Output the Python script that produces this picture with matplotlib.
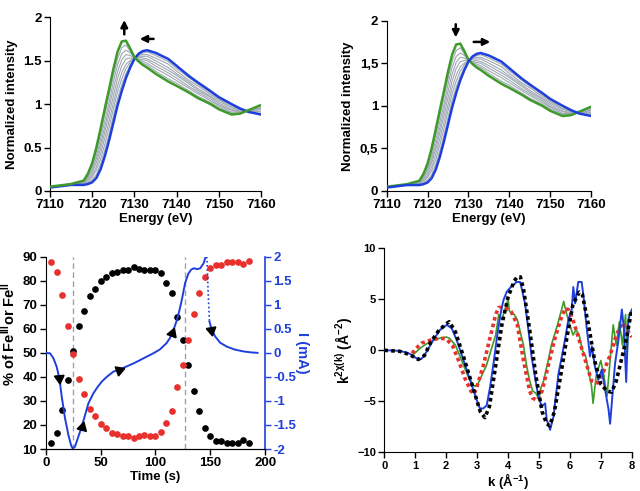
import numpy as np
import matplotlib
matplotlib.use("Agg")
import matplotlib.pyplot as plt
from matplotlib.ticker import FuncFormatter

plt.rcParams['font.family'] = ['Liberation Sans', 'DejaVu Sans']
plt.rcParams['font.weight'] = 'bold'
plt.rcParams['font.size'] = 9
plt.rcParams['axes.labelweight'] = 'bold'
plt.rcParams['mathtext.fontset'] = 'custom'
plt.rcParams['mathtext.rm'] = 'Liberation Sans:bold'
plt.rcParams['mathtext.it'] = 'Liberation Sans:bold'
plt.rcParams['mathtext.bf'] = 'Liberation Sans:bold'
plt.rcParams['mathtext.default'] = 'bf'

GREEN = '#3f9a2c'
BLUE = '#1f3fdc'
RED = '#e8302c'
GRAY = '#9ea8b2'

# ---- XANES spectra (top panels) ----
energy = [7110, 7115, 7118, 7119, 7120, 7121, 7122, 7123, 7124, 7125, 7126, 7127,
          7128, 7129, 7130, 7131, 7132, 7133, 7135, 7138, 7140, 7143, 7145, 7148,
          7150, 7153, 7155, 7157, 7160]
xanes_green = [0.05, 0.08, 0.12, 0.20, 0.32, 0.50, 0.72, 0.95, 1.17, 1.40, 1.60, 1.72,
               1.73, 1.64, 1.54, 1.49, 1.45, 1.42, 1.35, 1.26, 1.21, 1.13, 1.07, 1.00,
               0.94, 0.88, 0.89, 0.93, 0.99]
xanes_blue = [0.04, 0.07, 0.07, 0.08, 0.10, 0.15, 0.25, 0.40, 0.58, 0.78, 0.98, 1.15,
              1.30, 1.42, 1.52, 1.58, 1.61, 1.62, 1.59, 1.52, 1.44, 1.32, 1.25, 1.15,
              1.08, 1.00, 0.95, 0.91, 0.88]
xanes_gray = [
    [0.05, 0.08, 0.11, 0.19, 0.29, 0.46, 0.66, 0.88, 1.10, 1.32, 1.52, 1.65, 1.68, 1.61, 1.54,
     1.50, 1.47, 1.45, 1.38, 1.29, 1.24, 1.15, 1.09, 1.02, 0.96, 0.90, 0.90, 0.93, 0.98],
    [0.05, 0.08, 0.11, 0.17, 0.27, 0.41, 0.60, 0.81, 1.02, 1.25, 1.45, 1.58, 1.62, 1.59, 1.54,
     1.51, 1.49, 1.47, 1.41, 1.33, 1.27, 1.18, 1.12, 1.04, 0.98, 0.91, 0.91, 0.93, 0.96],
    [0.05, 0.08, 0.10, 0.16, 0.24, 0.37, 0.54, 0.74, 0.95, 1.17, 1.37, 1.51, 1.57, 1.56, 1.53,
     1.52, 1.51, 1.50, 1.44, 1.36, 1.30, 1.20, 1.14, 1.06, 0.99, 0.93, 0.91, 0.92, 0.95],
    [0.045, 0.075, 0.095, 0.14, 0.21, 0.33, 0.49, 0.68, 0.88, 1.09, 1.29, 1.44, 1.52, 1.53, 1.53,
     1.54, 1.53, 1.52, 1.47, 1.39, 1.33, 1.23, 1.16, 1.08, 1.01, 0.94, 0.92, 0.92, 0.94],
    [0.044, 0.074, 0.089, 0.13, 0.18, 0.28, 0.43, 0.61, 0.80, 1.01, 1.21, 1.36, 1.46, 1.50, 1.53,
     1.55, 1.55, 1.55, 1.50, 1.42, 1.35, 1.25, 1.18, 1.09, 1.03, 0.96, 0.93, 0.92, 0.92],
    [0.043, 0.073, 0.083, 0.11, 0.16, 0.24, 0.37, 0.54, 0.73, 0.94, 1.14, 1.29, 1.41, 1.48, 1.53,
     1.56, 1.57, 1.57, 1.53, 1.46, 1.38, 1.27, 1.21, 1.11, 1.05, 0.97, 0.94, 0.92, 0.91],
    [0.041, 0.071, 0.076, 0.095, 0.13, 0.19, 0.31, 0.47, 0.65, 0.86, 1.06, 1.22, 1.35, 1.45, 1.52,
     1.57, 1.59, 1.60, 1.56, 1.49, 1.41, 1.30, 1.23, 1.13, 1.06, 0.99, 0.94, 0.91, 0.89],
]

# ---- time course (bottom left) ----
time_s = [5, 10, 15, 20, 25, 30, 35, 40, 45, 50, 55, 60, 65, 70, 75, 80, 85, 90, 95,
          100, 105, 110, 115, 120, 125, 130, 135, 140, 145, 150, 155, 160, 165, 170,
          175, 180, 185]
fe_black = [12.5, 16.5, 26.2, 38.7, 50.9, 61.2, 67.5, 73.8, 76.5, 79.9, 81.7, 83.2, 83.5,
            84.6, 84.6, 85.7, 85.0, 84.6, 84.6, 84.6, 83.1, 79.2, 74.9, 64.8, 55.3, 45.1,
            34.0, 25.7, 18.6, 15.5, 13.5, 13.5, 12.4, 12.6, 12.4, 13.6, 12.4]
fe_red = [87.9, 83.6, 74.1, 61.3, 49.4, 39.0, 32.7, 26.5, 23.7, 20.4, 18.6, 16.8, 16.2,
          15.5, 15.5, 14.6, 15.3, 15.7, 15.5, 15.5, 17.2, 21.0, 25.7, 35.6, 45.1, 55.2,
          66.3, 74.7, 81.4, 85.1, 86.7, 86.7, 87.8, 87.8, 87.8, 87.1, 88.1]
cur_t1 = [0, 4, 7, 10, 12.5, 14.6, 17.6, 20.7, 23.1, 24.6, 26.7, 29.8, 32.8, 35.9, 38.9,
          43.5, 47, 51, 55.6, 61.7, 67.8, 74, 80, 86, 92, 98, 104, 110, 113, 116, 119.5,
          122, 124, 127, 130, 132.5, 135, 138, 140.8, 143.8, 146.5]
cur_i1 = [0, -0.01, -0.11, -0.29, -0.53, -0.91, -1.36, -1.71, -1.92, -1.99, -1.95, -1.74,
          -1.54, -1.29, -1.05, -0.84, -0.72, -0.6, -0.5, -0.39, -0.34, -0.28, -0.22, -0.15,
          -0.08, -0.01, 0.07, 0.2, 0.3, 0.45, 0.68, 0.9, 1.1, 1.45, 1.65, 1.73, 1.76, 1.74,
          1.76, 1.86, 2.05]
cur_t_dot = [146.8, 147.3, 147.8, 148.3, 148.8, 149.2]
cur_i_dot = [2.0, 1.7, 1.4, 1.1, 0.85, 0.65]
cur_t2 = [149.2, 151.4, 154.4, 159, 165, 172, 180, 187, 193]
cur_i2 = [0.65, 0.47, 0.34, 0.21, 0.13, 0.07, 0.03, 0.01, 0.0]
switch_times = [25, 127]
arrow_t = [12.5, 33, 67, 115, 151]
arrow_i = [-0.53, -1.55, -0.35, 0.41, 0.47]
arrow_rot = [185, 345, 290, 340, 190]

# ---- EXAFS (bottom right) ----
blue_k = [0, 0.3, 0.5, 0.7, 0.83, 0.95, 1.05, 1.2, 1.37, 1.58, 1.8, 2.02, 2.18, 2.34, 2.56,
          2.77, 2.99, 3.09, 3.2, 3.31, 3.42, 3.53, 3.63, 3.74, 3.85, 3.96, 4.06, 4.17, 4.28,
          4.39, 4.44, 4.55, 4.66, 4.76, 4.87, 4.98, 5.09, 5.2, 5.25, 5.36, 5.47, 5.52, 5.63,
          5.74, 5.84, 5.95, 6.06, 6.11, 6.17, 6.27, 6.38, 6.44, 6.54, 6.65, 6.71, 6.81, 6.92,
          7.03, 7.14, 7.25, 7.3, 7.39, 7.46, 7.57, 7.68, 7.75, 7.82, 7.89, 8.0]
blue_chi = [0, -0.02, -0.07, -0.2, -0.36, -0.6, -0.8, -0.85, -0.13, 1.0, 2.0, 2.5, 2.15, 1.0,
            -0.95, -2.9, -4.9, -5.7, -5.7, -5.4, -3.6, -1.3, 1.0, 3.3, 4.9, 5.75, 6.1, 6.4,
            6.7, 6.7, 6.1, 4.6, 2.0, -0.6, -2.6, -4.5, -5.5, -5.2, -6.8, -7.8, -6.5, -5.2,
            -2.3, -0.6, 1.0, 3.0, 4.0, 6.2, 4.6, 6.7, 6.7, 5.3, 2.3, -0.6, 0.4, -1.6, -2.9,
            -1.9, -3.9, -5.8, -7.2, -3.9, -1.3, 1.0, 4.0, 2.0, -3.1, 3.0, 4.0]
black_k = [0, 0.5, 0.8, 1.1, 1.3, 1.5, 1.75, 2.0, 2.1, 2.3, 2.6, 2.9, 3.1, 3.25, 3.4, 3.6,
           3.8, 4.0, 4.2, 4.3, 4.4, 4.5, 4.7, 4.9, 5.1, 5.25, 5.35, 5.5, 5.7, 5.9, 6.1, 6.3,
           6.4, 6.6, 6.8, 7.0, 7.2, 7.35, 7.5, 7.7, 7.85, 8.0]
black_chi = [0, -0.1, -0.4, -0.9, -0.5, 0.8, 1.9, 2.6, 2.8, 1.8, -1.0, -4.0, -6.0, -6.6,
             -5.5, -1.5, 2.5, 5.2, 6.8, 7.2, 7.2, 6.0, 2.0, -2.5, -6.0, -7.2, -7.4, -6.0,
             -2.5, 1.2, 4.5, 5.7, 5.5, 2.5, -1.0, -3.3, -4.0, -4.1, -3.0, -0.5, 1.5, 4.0]
red_k = [0.9, 1.0, 1.2, 1.5, 1.8, 2.0, 2.2, 2.4, 2.6, 2.8, 2.9, 3.0, 3.2, 3.4, 3.6, 3.7, 3.9,
         4.1, 4.3, 4.5, 4.7, 4.8, 4.95, 5.1, 5.3, 5.5, 5.7, 5.85, 5.95, 6.1, 6.3, 6.5, 6.7,
         6.9, 7.1, 7.3, 7.5, 7.7, 7.9, 8.0]
red_chi = [-0.3, 0.1, 0.7, 1.0, 1.2, 1.1, 0.5, -1.0, -2.7, -4.0, -4.3, -3.5, -1.5, 1.0, 3.5,
           4.2, 4.2, 3.8, 2.5, -1.0, -4.0, -4.7, -4.9, -4.0, -1.5, 1.0, 3.0, 4.1, 4.0, 3.0,
           1.0, -1.0, -3.0, -3.2, -2.0, -0.5, 1.5, 2.7, 1.8, 1.3]
green_k = [0.9, 1.2, 1.5, 1.8, 2.0, 2.1, 2.3, 2.5, 2.7, 2.9, 3.0, 3.1, 3.3, 3.5, 3.6, 3.7,
           3.8, 3.9, 4.0, 4.05, 4.2, 4.3, 4.5, 4.6, 4.7, 4.8, 4.9, 5.0, 5.05, 5.15, 5.3, 5.4,
           5.5, 5.6, 5.75, 5.8, 5.9, 6.0, 6.1, 6.2, 6.3, 6.4, 6.5, 6.6, 6.7, 6.75, 6.85, 7.0,
           7.1, 7.2, 7.3, 7.4, 7.5, 7.6, 7.7, 7.8, 7.85, 7.9]
green_chi = [-0.5, 0.3, 0.9, 1.2, 1.3, 1.2, 0.5, -1.0, -2.5, -3.5, -3.5, -2.8, -1.5, 0.5,
             1.5, 3.5, 3.0, 4.0, 5.0, 3.8, 3.5, 3.0, 0.5, -1.5, -3.0, -4.0, -4.2, -4.8, -3.8,
             -3.0, -1.0, 0.5, 1.5, 2.5, 4.2, 4.8, 3.5, 2.5, 1.5, 2.0, 1.5, 0.0, -0.5, -2.0,
             -3.5, -5.2, -2.5, -1.0, -2.5, -4.5, -1.0, 2.5, 0.5, 2.8, 0.5, 3.5, -0.5, 3.5]


def style_axes(ax, size=9.5):
    for s in ['top', 'right']:
        ax.spines[s].set_visible(False)
    ax.tick_params(direction='out', length=4, width=1, labelsize=size, pad=2)
    for lab in ax.get_xticklabels() + ax.get_yticklabels():
        lab.set_fontweight('bold')


def xanes_panel(ax, blue_on_top, comma):
    for g in xanes_gray:
        ax.plot(energy, g, color=GRAY, lw=0.8, zorder=2)
    zb, zg = (4, 3) if blue_on_top else (3, 4)
    ax.plot(energy, xanes_blue, color=BLUE, lw=1.8, zorder=zb)
    ax.plot(energy, xanes_green, color=GREEN, lw=1.8, zorder=zg)
    ax.set_xlim(7110, 7160)
    ax.set_ylim(0, 2)
    ax.set_xticks([7110, 7120, 7130, 7140, 7150, 7160])
    ax.set_yticks([0, 0.5, 1, 1.5, 2])
    if comma:
        ax.yaxis.set_major_formatter(FuncFormatter(lambda v, p: ('%g' % v).replace('.', ',')))
    else:
        ax.yaxis.set_major_formatter(FuncFormatter(lambda v, p: '%g' % v))
    ax.set_xlabel('Energy (eV)', fontsize=9.5, labelpad=1)
    ax.set_ylabel('Normalized intensity', fontsize=9.5, labelpad=4)
    style_axes(ax)


fig = plt.figure(figsize=(6.4, 4.91), dpi=100)

# top left
ax1 = fig.add_axes([0.078, 0.611, 0.330, 0.354])
xanes_panel(ax1, blue_on_top=False, comma=False)
arr = dict(arrowstyle='-|>', lw=1.8, color='black', mutation_scale=10)
ax1.annotate('', xy=(7127.6, 2.0), xytext=(7127.6, 1.77), arrowprops=arr)
ax1.annotate('', xy=(7130.6, 1.75), xytext=(7135.2, 1.75), arrowprops=arr)

# top right
ax2 = fig.add_axes([0.604, 0.611, 0.320, 0.347])
xanes_panel(ax2, blue_on_top=True, comma=True)
ax2.annotate('', xy=(7126.9, 1.77), xytext=(7126.9, 1.99), arrowprops=arr)
ax2.annotate('', xy=(7136.0, 1.75), xytext=(7130.6, 1.75), arrowprops=arr)

# bottom left
ax3 = fig.add_axes([0.0714, 0.0855, 0.343, 0.3917])
for t in switch_times:
    ax3.axvline(t, color='#9aa4ac', lw=1, ls=(0, (4, 2.5)), zorder=1)
ax3.plot(time_s, fe_black, 'o', color='black', ms=3.8, zorder=3)
ax3.plot(time_s, fe_red, 'o', color=RED, ms=3.8, zorder=3)
ax3.set_xlim(0, 200)
ax3.set_ylim(10, 90)
ax3.set_xticks([0, 50, 100, 150, 200])
ax3.set_yticks(np.arange(10, 91, 10))
ax3.set_xlabel('Time (s)', fontsize=9.5, labelpad=1)
ax3.set_ylabel('% of Fe$^{III}$or Fe$^{II}$', fontsize=10.5)
ax3.yaxis.set_label_coords(-0.125, 0.6)
style_axes(ax3)

ax3r = ax3.twinx()
ax3r.plot(cur_t1, cur_i1, color=BLUE, lw=1.4, zorder=2)
ax3r.plot(cur_t_dot, cur_i_dot, color=BLUE, lw=1.2, ls=(0, (1, 1.5)), zorder=2)
ax3r.plot(cur_t2, cur_i2, color=BLUE, lw=1.4, zorder=2)
for t, i, r in zip(arrow_t, arrow_i, arrow_rot):
    ax3r.plot([t], [i], marker=(3, 0, r), color='black', ms=8, zorder=4)
ax3r.set_ylim(-2, 2)
ax3r.set_xlim(0, 200)
ax3r.set_yticks(np.arange(-2, 2.01, 0.5))
ax3r.yaxis.set_major_formatter(FuncFormatter(lambda v, p: '%g' % v))
ax3r.spines['top'].set_visible(False)
ax3r.spines['left'].set_visible(False)
ax3r.spines['right'].set_color(BLUE)
ax3r.spines['right'].set_linewidth(1.2)
ax3r.tick_params(axis='y', colors=BLUE, direction='out', length=4, width=1,
                 labelsize=9.5, pad=2)
for lab in ax3r.get_yticklabels():
    lab.set_fontweight('bold')
ax3r.set_ylabel('I (mA)', color=BLUE, fontsize=10.5, rotation=270, labelpad=9)

# bottom right
ax4 = fig.add_axes([0.6005, 0.0788, 0.3866, 0.4155])
ax4.plot(green_k, green_chi, color=GREEN, lw=1.2, zorder=2)
ax4.plot(red_k, red_chi, color=RED, lw=2.6, ls=(0, (1, 0.9)), zorder=3)
ax4.plot(blue_k, blue_chi, color=BLUE, lw=1.4, zorder=4)
ax4.plot(black_k, black_chi, color='black', lw=2.6, ls=(0, (1, 0.9)), zorder=5)
ax4.set_xlim(0, 8)
ax4.set_ylim(-10, 10)
ax4.set_xticks(range(0, 9))
ax4.set_yticks([-10, -5, 0, 5, 10])
ax4.set_xlabel('k (Å$^{-1}$)', fontsize=9.5, labelpad=0)
ax4.set_ylabel('k$^{2χ(k)}$ (Å$^{-2}$)', fontsize=10, labelpad=2)
style_axes(ax4, size=8)

fig.savefig('out.png', dpi=100)
